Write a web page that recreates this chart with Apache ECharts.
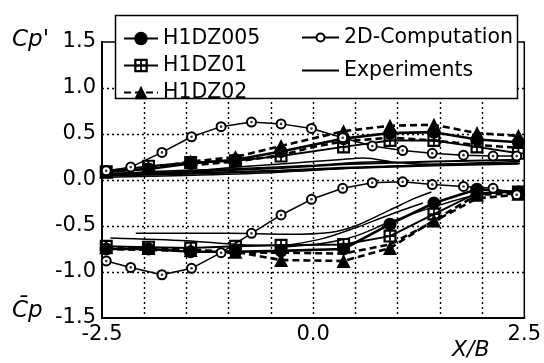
<!DOCTYPE html>
<html>
<head>
<meta charset="utf-8">
<script src="https://cdn.jsdelivr.net/npm/echarts@6/dist/echarts.min.js"></script>
<style>
  html, body { margin: 0; padding: 0; background: #fff; }
  #chart { width: 544px; height: 363px; }
</style>
</head>
<body>
<div id="chart"></div>
<script>
// Measurement stations along the section (X/B)
const stationX = [-2.45, -1.95, -1.45, -0.92, -0.38, 0.36, 0.91, 1.43, 1.94, 2.43];

// Fluctuating pressure Cp' (upper band)
const h005Up = [0.09, 0.12, 0.18, 0.22, 0.31, 0.45, 0.51, 0.52, 0.44, 0.41];
const h01Up  = [0.09, 0.15, 0.19, 0.21, 0.26, 0.36, 0.43, 0.43, 0.36, 0.29];
const h02Up  = [0.09, 0.13, 0.20, 0.25, 0.37, 0.53, 0.59, 0.60, 0.51, 0.48];
// second face of each case (no markers)
const h005Up2 = [[-2.45, 0.05], [-1.45, 0.07], [-0.38, 0.10], [0.36, 0.13], [1.43, 0.16], [2.43, 0.18]];
const h01Up2  = [[-2.45, 0.07], [-1.45, 0.09], [-0.38, 0.13], [0.36, 0.17], [1.43, 0.20], [2.43, 0.22]];
const h02Up2  = [[-1.45, 0.16], [-0.92, 0.20], [-0.38, 0.27], [0.0, 0.36], [0.36, 0.42], [0.91, 0.46], [1.43, 0.43], [1.94, 0.38], [2.43, 0.35]];

// Mean pressure Cp (lower band)
const h005Lo = [-0.75, -0.75, -0.78, -0.78, -0.77, -0.75, -0.48, -0.25, -0.10, -0.13];
const h01Lo  = [-0.72, -0.73, -0.74, -0.72, -0.71, -0.70, -0.61, -0.37, -0.14, -0.13];
const h02Lo  = [-0.73, -0.74, -0.76, -0.78, -0.87, -0.88, -0.74, -0.44, -0.16, -0.15];
const h02Lo2 = [[-2.45, -0.75], [-1.45, -0.77], [-0.92, -0.79], [-0.38, -0.79], [0.36, -0.80], [0.91, -0.70], [1.43, -0.45], [1.94, -0.20], [2.43, -0.16]];

// 2D computation
const cfdX  = [-2.45, -2.16, -1.79, -1.44, -1.09, -0.73, -0.38, -0.02, 0.35, 0.70, 1.06, 1.41, 1.78, 2.13, 2.41];
const cfdUp = [0.10, 0.14, 0.30, 0.47, 0.58, 0.63, 0.61, 0.56, 0.46, 0.37, 0.32, 0.29, 0.27, 0.26, 0.26];
const cfdLo = [-0.88, -0.95, -1.03, -0.96, -0.79, -0.58, -0.38, -0.21, -0.09, -0.03, -0.02, -0.05, -0.07, -0.09, -0.16];

// Experiments
const expUp1 = [[-2.45, 0.03], [-1.5, 0.05], [-0.5, 0.08], [0.5, 0.13], [1.5, 0.17], [2.45, 0.20]];
const expUp2 = [[-1.5, 0.09], [-0.9, 0.14], [-0.3, 0.18], [0.3, 0.22], [0.6, 0.24], [1.0, 0.19], [1.5, 0.17], [2.0, 0.18], [2.45, 0.18]];
const expUp3 = [[-2.45, 0.06], [-1.95, 0.09], [-1.0, 0.12], [0.0, 0.16], [0.5, 0.19], [0.9, 0.20]];
const expLo1 = [[-2.1, -0.58], [-1.0, -0.58], [-0.3, -0.59], [0.2, -0.57], [0.5, -0.50], [0.9, -0.33], [1.2, -0.20], [1.4, -0.13]];
const expLo2 = [[-2.4, -0.63], [-1.5, -0.66], [-0.9, -0.70], [-0.4, -0.71], [0.1, -0.64], [0.5, -0.52], [0.9, -0.38], [1.3, -0.25]];
const expLo3 = [[-0.4, -0.73], [0.1, -0.69], [0.5, -0.61], [0.9, -0.46], [1.4, -0.30], [1.9, -0.17], [2.4, -0.12]];

// Axis ticks
const xLabeled = ['-2.5', '0.0', '2.5'];
const yTicks = ['-1.5', '-1.0', '-0.5', '0.0', '0.5', '1.0', '1.5'];

const FONT = 'DejaVu Sans';
const pair = (xs, ys) => xs.map((x, i) => [x, ys[i]]);

// square with a cross: outer square and four window holes
const SQ_CROSS = 'path://M0 0L12 0L12 12L0 12Z' +
  'M2 2L2 5.2L5.2 5.2L5.2 2Z M6.8 2L6.8 5.2L10 5.2L10 2Z' +
  'M2 6.8L2 10L5.2 10L5.2 6.8Z M6.8 6.8L6.8 10L10 10L10 6.8Z';

const blk = '#000';
function caseSeries(name, data, opts) {
  return Object.assign({
    name, type: 'line', data, z: 3,
    itemStyle: { color: blk },
    emphasis: { disabled: true }
  }, opts);
}

const s005 = { symbol: 'circle', symbolSize: 13, lineStyle: { color: blk, width: 2.6 } };
const s01 = { symbol: SQ_CROSS, symbolSize: 13, lineStyle: { color: blk, width: 2 } };
const s02 = { symbol: 'triangle', symbolSize: 14, lineStyle: { color: blk, width: 2.6, type: [7, 4] } };
const plain = (w, dash) => ({ showSymbol: false, symbol: 'none', lineStyle: { color: blk, width: w, type: dash || 'solid' } });

function expSeries(data) {
  return {
    name: 'Experiments', type: 'line', data, symbol: 'none', showSymbol: false, smooth: 0.3,
    itemStyle: { color: 'rgba(0,0,0,0)' },
    lineStyle: { color: blk, width: 1.5 }, z: 2, emphasis: { disabled: true }
  };
}

function cfdSeries(ys) {
  return [{
    name: '2D-Computation', type: 'line', data: pair(cfdX, ys), z: 4,
    symbol: 'emptyCircle', symbolSize: 9,
    itemStyle: { color: blk, borderColor: blk, borderWidth: 1.3 },
    lineStyle: { color: blk, width: 1.5 }, emphasis: { disabled: true }
  }, {
    name: 'cfd-dot', type: 'scatter', data: pair(cfdX, ys), z: 5,
    symbol: 'circle', symbolSize: 2.6, itemStyle: { color: blk }, silent: true
  }];
}

const series = [
  caseSeries('H1DZ005', pair(stationX, h005Up), s005),
  caseSeries('H1DZ01', pair(stationX, h01Up), s01),
  caseSeries('H1DZ02', pair(stationX, h02Up), s02),
  caseSeries('H1DZ005', h005Up2, plain(2.6)),
  caseSeries('H1DZ01', h01Up2, plain(2)),
  caseSeries('H1DZ02', h02Up2, plain(2.6, [7, 4])),
  caseSeries('H1DZ005', pair(stationX, h005Lo), s005),
  caseSeries('H1DZ01', pair(stationX, h01Lo), s01),
  caseSeries('H1DZ02', pair(stationX, h02Lo), s02),
  caseSeries('H1DZ02', h02Lo2, plain(2.6, [7, 4])),
  ...cfdSeries(cfdUp),
  ...cfdSeries(cfdLo),
  expSeries(expUp1), expSeries(expUp2), expSeries(expUp3),
  expSeries(expLo1), expSeries(expLo2), expSeries(expLo3)
];

const legendText = { color: blk, fontFamily: FONT, fontSize: 20.5 };

const option = {
  animation: false,
  backgroundColor: '#fff',
  grid: { left: 102, right: 15, top: 42, bottom: 45, show: true, borderColor: blk, borderWidth: 1.5 },
  xAxis: {
    type: 'value', min: -2.5, max: 2.5, interval: 0.5,
    axisLine: { show: true, onZero: false, lineStyle: { color: blk, width: 2 } },
    axisTick: { show: false },
    axisLabel: {
      color: blk, fontFamily: FONT, fontSize: 21, margin: 6,
      formatter: v => { const t = v.toFixed(1); return xLabeled.includes(t) ? t : ''; }
    },
    splitLine: { show: true, showMinLine: false, showMaxLine: false, lineStyle: { color: blk, width: 1.4, type: [2, 3] } }
  },
  yAxis: {
    type: 'value', min: -1.5, max: 1.5, interval: 0.5,
    axisLine: { show: true, onZero: false, lineStyle: { color: blk, width: 2 } },
    axisTick: { show: false },
    axisLabel: {
      color: blk, fontFamily: FONT, fontSize: 21, margin: 6,
      formatter: v => yTicks.find(t => Math.abs(parseFloat(t) - v) < 1e-6) || ''
    },
    splitLine: { show: true, showMinLine: false, showMaxLine: false, lineStyle: { color: blk, width: 1.4, type: [2, 3] } }
  },
  legend: [{
    data: ['H1DZ005', 'H1DZ01', 'H1DZ02'],
    orient: 'vertical', left: 123, top: 28, padding: 0,
    itemWidth: 34, itemHeight: 17, itemGap: 6, selectedMode: false,
    textStyle: legendText, z: 6
  }, {
    data: ['2D-Computation', 'Experiments'],
    orient: 'vertical', left: 301, top: 27, padding: 0,
    itemWidth: 37, itemHeight: 10, itemGap: 12, selectedMode: false,
    textStyle: legendText, z: 6
  }],
  graphic: [
    { type: 'rect', z: 5, shape: { x: 115.5, y: 15.5, width: 402, height: 83 },
      style: { fill: '#fff', stroke: blk, lineWidth: 1.5 } },
    { type: 'text', z: 6, left: 12, top: 29,
      style: { text: "Cp'", font: 'italic 23px "DejaVu Sans"', fill: blk } },
    { type: 'text', z: 6, left: 12, top: 300,
      style: { text: 'C\u0304p', font: 'italic 23px "DejaVu Sans"', fill: blk } },
    { type: 'text', z: 6, left: 452, top: 339,
      style: { text: 'X/B', font: 'italic 22px "DejaVu Sans"', fill: blk } }
  ],
  series
};

const chart = echarts.init(document.getElementById('chart'), null, { renderer: 'canvas' });
chart.setOption(option);
</script>
</body>
</html>
